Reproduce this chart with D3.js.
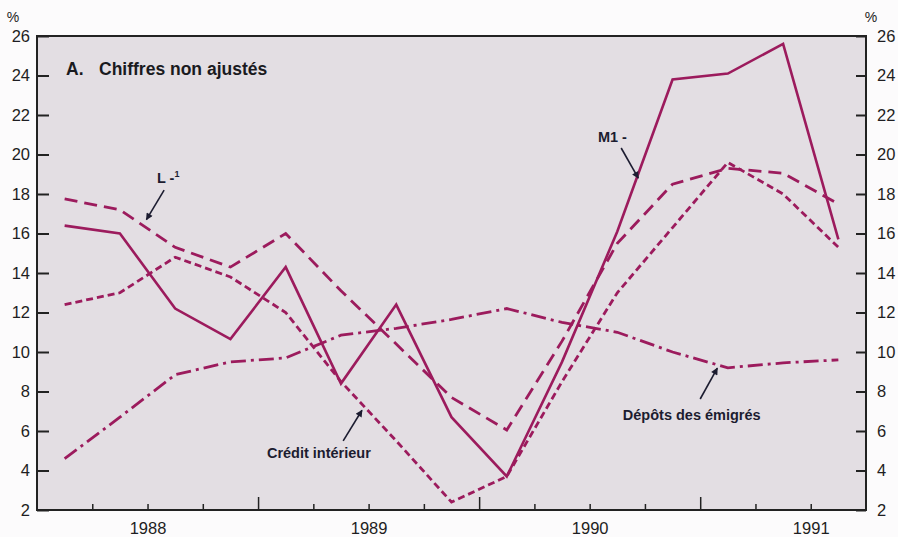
<!DOCTYPE html>
<html>
<head>
<meta charset="utf-8">
<script src="https://cdn.jsdelivr.net/npm/d3@7"></script>
<style>
  body { margin: 0; background: #fcfbfc; }
  svg { display: block; font-family: "Liberation Sans", Arial, sans-serif; }
  .tick text { fill: #1e1e22; }
</style>
</head>
<body>
<div id="chart"></div>
<script>
// quarterly data, 1988 Q1 .. 1991 Q3 (annual % change)
const years = [1988, 1989, 1990, 1991];
const yTicks = [2, 4, 6, 8, 10, 12, 14, 16, 18, 20, 22, 24, 26];
const m1 = [16.4, 16.0, 12.2, 10.65, 14.3, 8.4, 12.4, 6.7, 3.7, 9.5, 16.1, 23.8, 24.1, 25.6, 15.7];
const lAgg = [17.75, 17.2, 15.3, 14.3, 16.0, 13.1, 10.4, 7.7, 6.05, 10.55, 15.5, 18.5, 19.3, 19.05, 17.5];
const credit = [12.4, 13.0, 14.8, 13.8, 12.0, 8.5, 5.5, 2.4, 3.7, 8.5, 13.0, 16.3, 19.6, 18.0, 15.3];
const depots = [4.6, 6.7, 8.85, 9.5, 9.7, 10.85, 11.2, 11.65, 12.2, 11.5, 11.0, 10.0, 9.2, 9.45, 9.6];

const width = 898, height = 537;
const plotLeft = 37, plotRight = 866, plotTop = 36, plotBottom = 510;
const lineColor = "#9c1b5d";
const inkColor = "#1c1c30";

const svg = d3.select("#chart")
    .append("svg")
    .attr("width", width)
    .attr("height", height);

const x = d3.scaleLinear().domain([0, 15]).range([plotLeft, plotRight]);
const y = d3.scaleLinear().domain([2, 26]).range([plotBottom, plotTop]);

// plot background
svg.append("rect")
    .attr("x", plotLeft).attr("y", plotTop)
    .attr("width", plotRight - plotLeft).attr("height", plotBottom - plotTop)
    .attr("fill", "#e3dee3");

// left axis, ticks pointing inward
svg.append("g")
    .attr("transform", `translate(${plotLeft},0)`)
    .call(d3.axisLeft(y).tickValues(yTicks).tickSize(-12).tickPadding(7))
    .call(g => g.select(".domain").remove())
    .call(g => g.selectAll(".tick line").attr("stroke", "#222").attr("stroke-width", 2))
    .call(g => g.selectAll(".tick text").attr("font-size", 16.5));

// right axis
svg.append("g")
    .attr("transform", `translate(${plotRight},0)`)
    .call(d3.axisRight(y).tickValues(yTicks).tickSize(-10).tickPadding(11))
    .call(g => g.select(".domain").remove())
    .call(g => g.selectAll(".tick line").attr("stroke", "#222").attr("stroke-width", 2))
    .call(g => g.selectAll(".tick text").attr("font-size", 16.5));

// quarter ticks
svg.append("g")
    .attr("transform", `translate(0,${plotBottom})`)
    .call(d3.axisBottom(x).tickValues(d3.range(1, 15).filter(q => q % 4 !== 0)).tickSize(-6).tickFormat(""))
    .call(g => g.select(".domain").remove())
    .call(g => g.selectAll(".tick line").attr("stroke", "#222").attr("stroke-width", 1.5));

// year boundary ticks
svg.append("g")
    .attr("transform", `translate(0,${plotBottom})`)
    .call(d3.axisBottom(x).tickValues([4, 8, 12]).tickSize(-13).tickFormat(""))
    .call(g => g.select(".domain").remove())
    .call(g => g.selectAll(".tick line").attr("stroke", "#222").attr("stroke-width", 1.5));

// year labels at mid-year
svg.append("g")
    .attr("transform", `translate(0,${plotBottom})`)
    .call(d3.axisBottom(x).tickValues(years.map((d, i) => i * 4 + 2)).tickSize(0).tickPadding(12)
        .tickFormat((d, i) => years[i]))
    .call(g => g.select(".domain").remove())
    .call(g => g.selectAll(".tick text").attr("font-size", 16.5));

// percent signs
svg.append("text").attr("x", 13).attr("y", 22).attr("text-anchor", "middle")
    .attr("font-size", 14).attr("fill", "#1e1e22").text("%");
svg.append("text").attr("x", 871).attr("y", 22).attr("text-anchor", "middle")
    .attr("font-size", 14).attr("fill", "#1e1e22").text("%");

// series
const line = d3.line()
    .x((d, i) => x(i + 0.5))
    .y(d => y(d));

const series = [
    { values: depots, dash: "15,5,3,5", w: 2.8 },
    { values: credit, dash: "7,4", w: 2.8 },
    { values: lAgg, dash: "13,7", w: 2.8 },
    { values: m1, dash: null, w: 2.6 },
];

svg.append("g").selectAll("path")
    .data(series).enter()
    .append("path")
    .attr("d", d => line(d.values))
    .attr("fill", "none")
    .attr("stroke", lineColor)
    .attr("stroke-width", d => d.w)
    .attr("stroke-dasharray", d => d.dash)
    .attr("stroke-linejoin", "miter");

// frame
svg.append("rect")
    .attr("x", plotLeft).attr("y", plotTop)
    .attr("width", plotRight - plotLeft).attr("height", plotBottom - plotTop)
    .attr("fill", "none")
    .attr("stroke", "#222")
    .attr("stroke-width", 2);

// title
svg.append("text")
    .attr("x", plotLeft + 29).attr("y", plotTop + 39)
    .attr("font-size", 17.5).attr("font-weight", "bold").attr("fill", "#1a1a1e")
    .text("A.");
svg.append("text")
    .attr("x", plotLeft + 62).attr("y", plotTop + 39)
    .attr("font-size", 17.5).attr("font-weight", "bold").attr("fill", "#1a1a1e")
    .text("Chiffres non ajustés");

// annotations, placed in data coordinates (quarter index, %)
svg.append("defs").append("marker")
    .attr("id", "arrow")
    .attr("viewBox", "0 0 10 10")
    .attr("refX", 9).attr("refY", 5)
    .attr("markerWidth", 9).attr("markerHeight", 7)
    .attr("markerUnits", "userSpaceOnUse")
    .attr("orient", "auto")
    .append("path")
    .attr("d", "M0,0L10,5L0,10z")
    .attr("fill", inkColor);

const notes = [
    { text: "Crédit intérieur", tx: 4.16, ty: 4.63, from: [5.54, 5.5], to: [5.88, 7.05] },
    { text: "Dépôts des émigrés", tx: 10.6, ty: 6.56, from: [12.0, 7.62], to: [12.31, 9.18] },
    { text: "M1 -", tx: 10.15, ty: 20.63, from: [10.57, 20.33], to: [10.88, 18.8] },
];

notes.forEach(n => {
    svg.append("text")
        .attr("x", x(n.tx)).attr("y", y(n.ty))
        .attr("font-size", 14.5).attr("font-weight", "bold").attr("fill", inkColor)
        .text(n.text);
    svg.append("line")
        .attr("x1", x(n.from[0])).attr("y1", y(n.from[1]))
        .attr("x2", x(n.to[0])).attr("y2", y(n.to[1]))
        .attr("stroke", inkColor).attr("stroke-width", 1.6)
        .attr("marker-end", "url(#arrow)");
});

// L with superscript
const lText = svg.append("text")
    .attr("x", x(2.17)).attr("y", y(18.56))
    .attr("font-size", 14.5).attr("font-weight", "bold").attr("fill", inkColor);
lText.append("tspan").text("L -");
lText.append("tspan").attr("font-size", 9).attr("dy", -6).text("1");
svg.append("line")
    .attr("x1", x(2.3)).attr("y1", y(18.2))
    .attr("x2", x(1.98)).attr("y2", y(16.7))
    .attr("stroke", inkColor).attr("stroke-width", 1.6)
    .attr("marker-end", "url(#arrow)");
</script>
</body>
</html>
